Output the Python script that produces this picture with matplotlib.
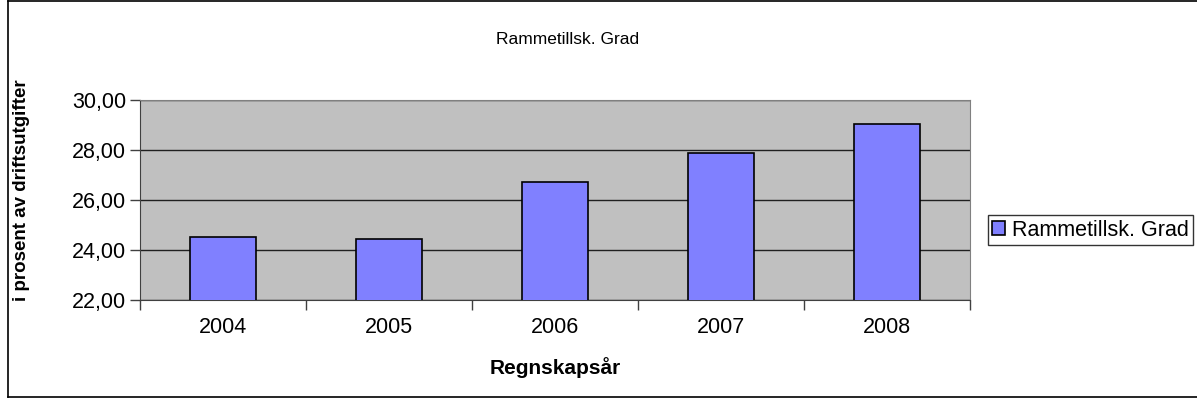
import matplotlib
matplotlib.use("Agg")
import matplotlib.pyplot as plt
from matplotlib.lines import Line2D
from matplotlib.ticker import FuncFormatter, FixedLocator

years = ["2004", "2005", "2006", "2007", "2008"]
values = [24.54, 24.46, 26.72, 27.90, 29.03]
series_name = "Rammetillsk. Grad"
title = "Rammetillsk. Grad"
xlabel = "Regnskapsår"
ylabel = "i prosent av driftsutgifter"
yticks = [22, 24, 26, 28, 30]

plt.rcParams['font.family'] = ['Liberation Sans', 'DejaVu Sans']

W, H = 1197, 403
fig = plt.figure(figsize=(W / 100, H / 100), dpi=100)
ax = fig.add_axes([140 / W, 1 - 300 / H, (970 - 140) / W, 200 / H])
ax.set_facecolor('#C0C0C0')

x = list(range(len(years)))
ax.bar(x, values, width=0.4, color='#8080FF', edgecolor='black', linewidth=1.2,
       label=series_name, zorder=3)
ax.set_xlim(-0.5, len(years) - 0.5)
ax.set_ylim(22, 30)
ax.set_yticks(yticks)
ax.yaxis.set_major_formatter(FuncFormatter(lambda v, p: f"{v:.2f}".replace('.', ',')))
ax.grid(axis='y', color='#202020', linewidth=1, zorder=1)
ax.set_axisbelow(True)

ax.set_xticks(x)
ax.set_xticklabels(years)
ax.xaxis.set_minor_locator(FixedLocator([i - 0.5 for i in range(len(years) + 1)]))
ax.tick_params(axis='x', which='major', length=0, pad=12, labelsize=15.5)
ax.tick_params(axis='x', which='minor', length=7, width=1, direction='out', color='#404040')
ax.tick_params(axis='y', length=7, width=1, direction='out', pad=3, labelsize=15.5, color='#404040')

for s in ['left', 'bottom', 'top', 'right']:
    ax.spines[s].set_color('#808080')
ax.spines['left'].set_color('#404040')
ax.spines['bottom'].set_color('#404040')

ax.set_xlabel(xlabel, fontsize=15, fontweight='bold', labelpad=14)
fig.text(22 / W, 1 - 190 / H, ylabel, rotation=90, ha='center', va='center',
         fontsize=13.5, fontweight='bold')
fig.text(568 / W, 1 - 40 / H, title, ha='center', va='center', fontsize=12.5)

leg = fig.legend(loc='center left', bbox_to_anchor=(988 / W, 1 - 230 / H),
                 frameon=True, fancybox=False, fontsize=15.5, handlelength=0.6,
                 handleheight=0.6, handletextpad=0.3, borderpad=0.2, borderaxespad=0)
leg.get_frame().set_edgecolor('black')
leg.get_frame().set_linewidth(1)

# chart-area border (left, top, bottom; right edge is cut off in the original)
bx0, by0, by1 = 7.5 / W, 1 - 396.5 / H, 1 - 1.0 / H
for xs, ys in [((bx0, bx0), (by0, by1)), ((bx0, 1.0), (by1, by1)), ((bx0, 1.0), (by0, by0))]:
    fig.add_artist(Line2D(xs, ys, transform=fig.transFigure, color='black', linewidth=1.2))

fig.savefig("out.png", dpi=100)
